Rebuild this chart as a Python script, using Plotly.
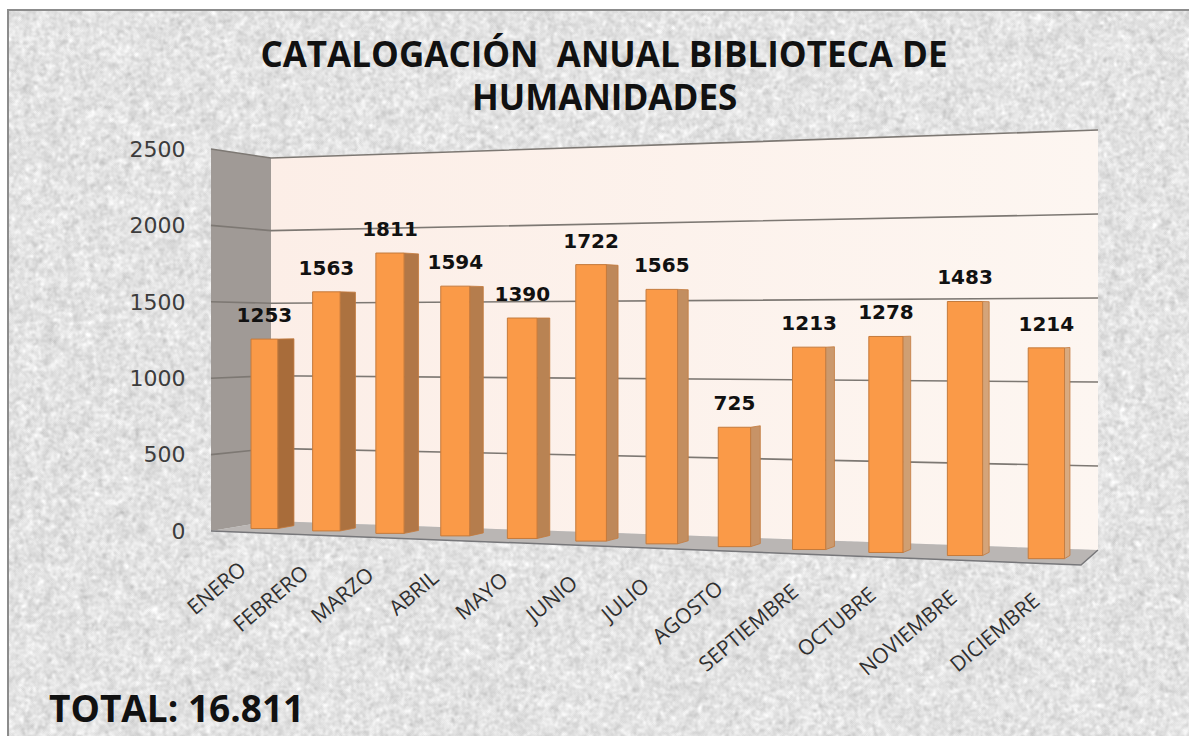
import base64, struct, zlib
import numpy as np
import plotly.graph_objects as go

# ---------- data ----------
months = ["ENERO", "FEBRERO", "MARZO", "ABRIL", "MAYO", "JUNIO", "JULIO", "AGOSTO",
          "SEPTIEMBRE", "OCTUBRE", "NOVIEMBRE", "DICIEMBRE"]
values = [1253, 1563, 1811, 1594, 1390, 1722, 1565, 725, 1213, 1278, 1483, 1214]
ticks = [0, 500, 1000, 1500, 2000, 2500]
title_lines = ["CATALOGACIÓN\u00a0\u00a0ANUAL BIBLIOTECA DE", "HUMANIDADES"]
total_label = "TOTAL: 16.811"

W, H = 1189, 736
FRONT = "#FA9A48"
EDGE = "#C47A3C"

# ---------- oblique 3-D look: camera of the chart box ----------
VP_DEPTH = (1465, 317)   # where depth lines converge
VP_WIDE = -5000          # where width lines converge
DEPTH = 0.0135
UNIT = 0.1528            # near edge: screen length of one value unit
ZERO = 531


def Y(p):
    return (ZERO - p) / UNIT


def bar_x(t):
    return (251 + 57.7 * t) / (1 - 0.0126 * t)


def floor_y(x):
    return 528 + (x - 251) * 30 / 778


def front_scale(x):
    return 0.1508 * (x - VP_WIDE) / (251 - VP_WIDE)


def back_floor(x):
    return 521 + (x - 271) * 0.0351


def back_scale(x):
    return 0.1452 * (x - VP_WIDE) / (271 - VP_WIDE)


def front_edge(x):
    return 531 + (x - 211) * 34 / 871


def lerp_color(a, b, t):
    c = [round(a[k] + (b[k] - a[k]) * t) for k in range(3)]
    return f"rgb({c[0]},{c[1]},{c[2]})"


# ---------- granite texture of the chart area ----------
def texture_uri(w, h):
    rng = np.random.default_rng(7)

    def blur(a, n):
        for _ in range(n):
            a = (a + np.roll(a, 1, 0) + np.roll(a, -1, 0) + np.roll(a, 1, 1) + np.roll(a, -1, 1)) / 5
        return a

    fine = blur(rng.normal(0, 1, (h, w)), 3)
    mid = blur(rng.normal(0, 1, (h, w)), 8)
    img = 227 + 6 * fine / fine.std() + 5 * mid / mid.std()
    img = np.clip(img, 0, 255).astype(np.uint8)
    raw = b"".join(b"\x00" + row.tobytes() for row in img)

    def chunk(tag, data):
        return struct.pack(">I", len(data)) + tag + data + struct.pack(">I", zlib.crc32(tag + data))

    png = (b"\x89PNG\r\n\x1a\n" + chunk(b"IHDR", struct.pack(">IIBBBBB", w, h, 8, 0, 0, 0, 0))
           + chunk(b"IDAT", zlib.compress(raw, 9)) + chunk(b"IEND", b""))
    return "data:image/png;base64," + base64.b64encode(png).decode()


fig = go.Figure()

# ---------- walls and floor ----------
xl, xb, xr = 211, 271, 1098
fig.add_trace(go.Scatter(
    x=[xb, xr, xr, xb, xb],
    y=[Y(back_floor(xb) - back_scale(xb) * 2500), Y(back_floor(xr) - back_scale(xr) * 2500),
       Y(back_floor(xr)), Y(back_floor(xb)), Y(back_floor(xb) - back_scale(xb) * 2500)],
    mode="lines", line=dict(width=0), fill="toself",
    fillgradient=dict(type="horizontal", colorscale=[[0, "#FCEEE7"], [1, "#FDF6F1"]]),
    hoverinfo="skip"))
fig.add_trace(go.Scatter(
    x=[xl, xb, xb, xl, xl],
    y=[2500, Y(back_floor(xb) - back_scale(xb) * 2500), Y(back_floor(xb)), 0, 2500],
    mode="lines", line=dict(width=0), fill="toself", fillcolor="#A09A96", hoverinfo="skip"))
fig.add_trace(go.Scatter(
    x=[xl, xb, xr, 1081, xl],
    y=[0, Y(back_floor(xb)), Y(back_floor(xr)), Y(front_edge(1081)), 0],
    mode="lines", line=dict(width=0), fill="toself", fillcolor="#BAB6B4", hoverinfo="skip"))
fig.add_trace(go.Scatter(
    x=[xl, 1081, xr], y=[0, Y(front_edge(1081)), Y(back_floor(xr))],
    mode="lines", line=dict(color="#77777A", width=1.5), hoverinfo="skip"))
for v in ticks[1:]:
    fig.add_trace(go.Scatter(
        x=[xl, xb, xr],
        y=[v, Y(back_floor(xb) - back_scale(xb) * v), Y(back_floor(xr) - back_scale(xr) * v)],
        mode="lines", line=dict(color="#7D7873", width=1.6), hoverinfo="skip"))

# ---------- columns ----------
left = [bar_x(i) for i in range(len(values))]
right = [bar_x(i + 0.44) for i in range(len(values))]
center = [(a + b) / 2 for a, b in zip(left, right)]
width = [b - a for a, b in zip(left, right)]
base_px = [floor_y(c) for c in center]
top_px = [b - v * front_scale(c) for b, v, c in zip(base_px, values, center)]

fig.add_trace(go.Bar(
    x=center, width=width, base=[Y(b) for b in base_px],
    y=[v * front_scale(c) / UNIT for v, c in zip(values, center)],
    marker=dict(color=FRONT, line=dict(color=EDGE, width=1)),
    xaxis="x2", yaxis="y2", hovertext=months, hoverinfo="text"))

for i, (r, t, b) in enumerate(zip(right, top_px, base_px)):
    rx = r + DEPTH * (VP_DEPTH[0] - r)
    col = lerp_color((168, 108, 58), (216, 170, 128), i / (len(values) - 1))
    fig.add_trace(go.Scatter(
        x=[r, rx, rx, r, r],
        y=[Y(t), Y(t + DEPTH * (VP_DEPTH[1] - t)), Y(b + DEPTH * (VP_DEPTH[1] - b)), Y(b), Y(t)],
        mode="lines", line=dict(color=EDGE, width=0.8), fill="toself", fillcolor=col,
        xaxis="x2", yaxis="y2", hoverinfo="skip"))

# ---------- value labels ----------
fig.add_trace(go.Scatter(
    x=center, y=[Y(t - 22) for t in top_px], text=[str(v) for v in values],
    mode="text", textposition="middle center",
    textfont=dict(family="DejaVu Sans", size=20, color="#111111", weight="bold"),
    xaxis="x2", yaxis="y2", hoverinfo="skip"))

# ---------- month labels ----------
annotations = []
for name, c in zip(months, center):
    ax = c - 0.0158 * (VP_DEPTH[0] - c) + 8
    annotations.append(dict(
        x=ax, y=Y(front_edge(ax) + 20), xref="x", yref="y", text=name, showarrow=False,
        textangle=-40, xanchor="right", yanchor="top",
        font=dict(family="Open Sans", size=21, color="#303030")))
annotations.append(dict(
    x=47 / W, y=1 - 707 / H, xref="paper", yref="paper", text=f"<b>{total_label}</b>",
    showarrow=False, xanchor="left", yanchor="middle",
    font=dict(family="Open Sans", size=37, color="#111111")))
annotations.append(dict(
    x=604 / W, y=1 - 96 / H, xref="paper", yref="paper", text=f"<b>{title_lines[1]}</b>",
    showarrow=False, xanchor="center", yanchor="middle",
    font=dict(family="Open Sans", size=35, color="#111111")))

fig.update_layout(
    width=W, height=H, autosize=False,
    margin=dict(l=0, r=0, t=0, b=0),
    paper_bgcolor="white", plot_bgcolor="rgba(0,0,0,0)",
    showlegend=False, barmode="overlay",
    title=dict(text=f"<b>{title_lines[0]}</b>",
               x=604 / W, xanchor="center", y=1 - 55 / H, yanchor="middle",
               font=dict(family="Open Sans", size=35, color="#111111")),
    xaxis=dict(domain=[205 / W, 1], range=[205, W], visible=False),
    yaxis=dict(range=[Y(H), Y(0)], tickmode="array", tickvals=ticks, showgrid=False,
               zeroline=False, showline=False, ticks="outside", ticklen=14,
               tickcolor="rgba(0,0,0,0)",
               tickfont=dict(family="DejaVu Sans", size=22, color="#3C3C3C")),
    xaxis2=dict(overlaying="x", range=[205, W], visible=False),
    yaxis2=dict(overlaying="y", range=[Y(H), Y(0)], visible=False, anchor="x2"),
    annotations=annotations,
    images=[dict(source=texture_uri(1180, 725), xref="paper", yref="paper",
                 x=9 / W, y=1 - 11 / H, sizex=1 - 9 / W, sizey=1 - 11 / H,
                 xanchor="left", yanchor="top", sizing="stretch", layer="below")],
    shapes=[dict(type="rect", xref="paper", yref="paper", x0=8 / W, x1=1.01, y0=-0.01, y1=1 - 10 / H,
                 line=dict(color="#8C8C8C", width=2), fillcolor="rgba(0,0,0,0)", layer="below")],
)
fig.write_html("out.html", config=dict(displayModeBar=False),
               post_script="document.body.style.margin='0';document.documentElement.style.overflow='hidden';")
